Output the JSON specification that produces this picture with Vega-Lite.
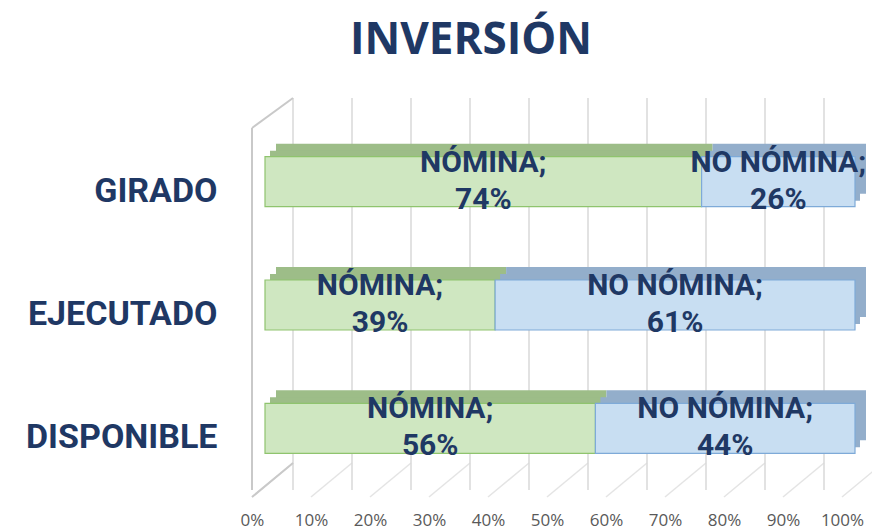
{
  "$schema": "https://vega.github.io/schema/vega-lite/v6.json",
  "width": 590,
  "height": 370,
  "autosize": "none",
  "padding": {"left": 265, "top": 120, "right": 17, "bottom": 40},
  "background": "white",
  "title": {
    "text": "INVERSIÓN",
    "font": "Open Sans",
    "fontWeight": "bold",
    "fontSize": 44,
    "color": "#1F3864",
    "anchor": "middle",
    "frame": "group",
    "dx": -89,
    "dy": 46,
    "baseline": "alphabetic",
    "offset": 45
  },
  "config": {"view": {"stroke": null}},
  "datasets": {
    "bars": [
      {"cat": "GIRADO", "serie": "NÓMINA", "pct": 0.74},
      {"cat": "GIRADO", "serie": "NO NÓMINA", "pct": 0.26},
      {"cat": "EJECUTADO", "serie": "NÓMINA", "pct": 0.39},
      {"cat": "EJECUTADO", "serie": "NO NÓMINA", "pct": 0.61},
      {"cat": "DISPONIBLE", "serie": "NÓMINA", "pct": 0.56},
      {"cat": "DISPONIBLE", "serie": "NO NÓMINA", "pct": 0.44}
    ],
    "ticks": [
      {"v": 0}, {"v": 0.1}, {"v": 0.2}, {"v": 0.3}, {"v": 0.4}, {"v": 0.5},
      {"v": 0.6}, {"v": 0.7}, {"v": 0.8}, {"v": 0.9}, {"v": 1}
    ]
  },
  "layer": [
    {
      "data": {"name": "ticks"},
      "mark": {"type": "rule", "color": "#E4E4E4", "strokeWidth": 1.5, "xOffset": -13, "x2Offset": 28, "yOffset": 7, "y2Offset": -27},
      "encoding": {
        "x": {
          "field": "v", "type": "quantitative", "scale": {"domain": [0, 1], "nice": false},
          "axis": {"title": null, "values": [0, 0.1, 0.2, 0.3, 0.4, 0.5, 0.6, 0.7, 0.8, 0.9, 1], "format": ".0%", "domain": false, "ticks": false, "grid": false, "labelOffset": -13, "labelPadding": 22, "labelFont": "Open Sans", "labelFontSize": 17, "labelColor": "#595959", "labelFlush": false, "labelOverlap": false}
        },
        "x2": {"field": "v"},
        "y": {"value": {"expr": "height"}},
        "y2": {"value": {"expr": "height"}}
      }
    },
    {
      "data": {"name": "ticks"},
      "mark": {"type": "rule", "color": "#D9D9D9", "strokeWidth": 1.5, "xOffset": 28, "yOffset": -22, "y2Offset": -27},
      "encoding": {
        "x": {"field": "v", "type": "quantitative"}
      }
    },
    {
      "data": {"values": [{"w": 0}]},
      "mark": {"type": "rule", "color": "#C9C9C9", "strokeWidth": 2, "xOffset": -13, "yOffset": 8, "y2Offset": 7},
      "encoding": {
        "x": {"field": "w", "type": "quantitative"}
      }
    },
    {
      "data": {"values": [{"w": 0}]},
      "mark": {"type": "rule", "color": "#C9C9C9", "strokeWidth": 2, "xOffset": -13, "x2Offset": 28, "yOffset": 8, "y2Offset": -22},
      "encoding": {
        "x": {"field": "w", "type": "quantitative"},
        "x2": {"field": "w"},
        "y": {"value": 0},
        "y2": {"value": 0}
      }
    },
    {
      "data": {"values": [{"w": 0}]},
      "mark": {"type": "rule", "color": "#C9C9C9", "strokeWidth": 2, "xOffset": -13, "x2Offset": 28, "yOffset": 7, "y2Offset": -27},
      "encoding": {
        "x": {"field": "w", "type": "quantitative"},
        "x2": {"field": "w"},
        "y": {"value": {"expr": "height"}},
        "y2": {"value": {"expr": "height"}}
      }
    },
    {
      "data": {"name": "bars"},
      "transform": [
        {"stack": "pct", "groupby": ["cat"], "sort": [{"field": "serie", "order": "descending"}], "as": ["x0", "x1"]}
      ],
      "mark": {"type": "bar", "height": 50, "xOffset": 11, "x2Offset": 11, "yOffset": -13},
      "encoding": {
        "y": {
          "field": "cat", "type": "nominal", "sort": ["GIRADO", "EJECUTADO", "DISPONIBLE"], "scale": {"paddingInner": 0, "paddingOuter": 0},
          "axis": {"title": null, "domain": false, "ticks": false, "labelPadding": 48, "labelOffset": 10, "labelLimit": 300, "labelFont": "Roboto", "labelFontWeight": "bold", "labelFontSize": 34, "labelColor": "#1F3864"}
        },
        "x": {"field": "x0", "type": "quantitative"},
        "x2": {"field": "x1"},
        "color": {"field": "serie", "type": "nominal", "scale": {"domain": ["NÓMINA", "NO NÓMINA"], "range": ["#9DBD88", "#93AECB"]}, "legend": null}
      }
    },
    {
      "data": {"name": "bars"},
      "transform": [
        {"stack": "pct", "groupby": ["cat"], "sort": [{"field": "serie", "order": "descending"}], "as": ["x0", "x1"]}
      ],
      "mark": {"type": "bar", "height": 50, "xOffset": 5, "x2Offset": 5, "yOffset": -6},
      "encoding": {
        "y": {"field": "cat", "type": "nominal", "sort": ["GIRADO", "EJECUTADO", "DISPONIBLE"]},
        "x": {"field": "x0", "type": "quantitative"},
        "x2": {"field": "x1"},
        "color": {"field": "serie", "type": "nominal", "legend": null}
      }
    },
    {
      "data": {"name": "bars"},
      "transform": [
        {"stack": "pct", "groupby": ["cat"], "sort": [{"field": "serie", "order": "descending"}], "as": ["x0", "x1"]}
      ],
      "mark": {"type": "bar", "height": 50, "strokeWidth": 1.2},
      "encoding": {
        "y": {"field": "cat", "type": "nominal", "sort": ["GIRADO", "EJECUTADO", "DISPONIBLE"]},
        "x": {"field": "x0", "type": "quantitative"},
        "x2": {"field": "x1"},
        "fill": {"field": "serie", "type": "nominal", "scale": {"domain": ["NÓMINA", "NO NÓMINA"], "range": ["#CFE7C1", "#C8DEF2"]}, "legend": null},
        "stroke": {"field": "serie", "type": "nominal", "scale": {"domain": ["NÓMINA", "NO NÓMINA"], "range": ["#8FC46E", "#7EAAD8"]}, "legend": null}
      }
    },
    {
      "data": {"name": "bars"},
      "transform": [
        {"stack": "pct", "groupby": ["cat"], "sort": [{"field": "serie", "order": "descending"}], "as": ["x0", "x1"]},
        {"calculate": "(datum.x0 + datum.x1) / 2", "as": "xm"},
        {"calculate": "[datum.serie + ';', format(datum.pct, '.0%')]", "as": "label"}
      ],
      "mark": {"type": "text", "font": "Roboto", "fontWeight": "bold", "fontSize": 30, "lineHeight": 37, "align": "center", "baseline": "middle", "dy": -19, "color": "#1F3864"},
      "encoding": {
        "y": {"field": "cat", "type": "nominal", "sort": ["GIRADO", "EJECUTADO", "DISPONIBLE"]},
        "x": {"field": "xm", "type": "quantitative"},
        "text": {"field": "label"}
      }
    }
  ]
}
